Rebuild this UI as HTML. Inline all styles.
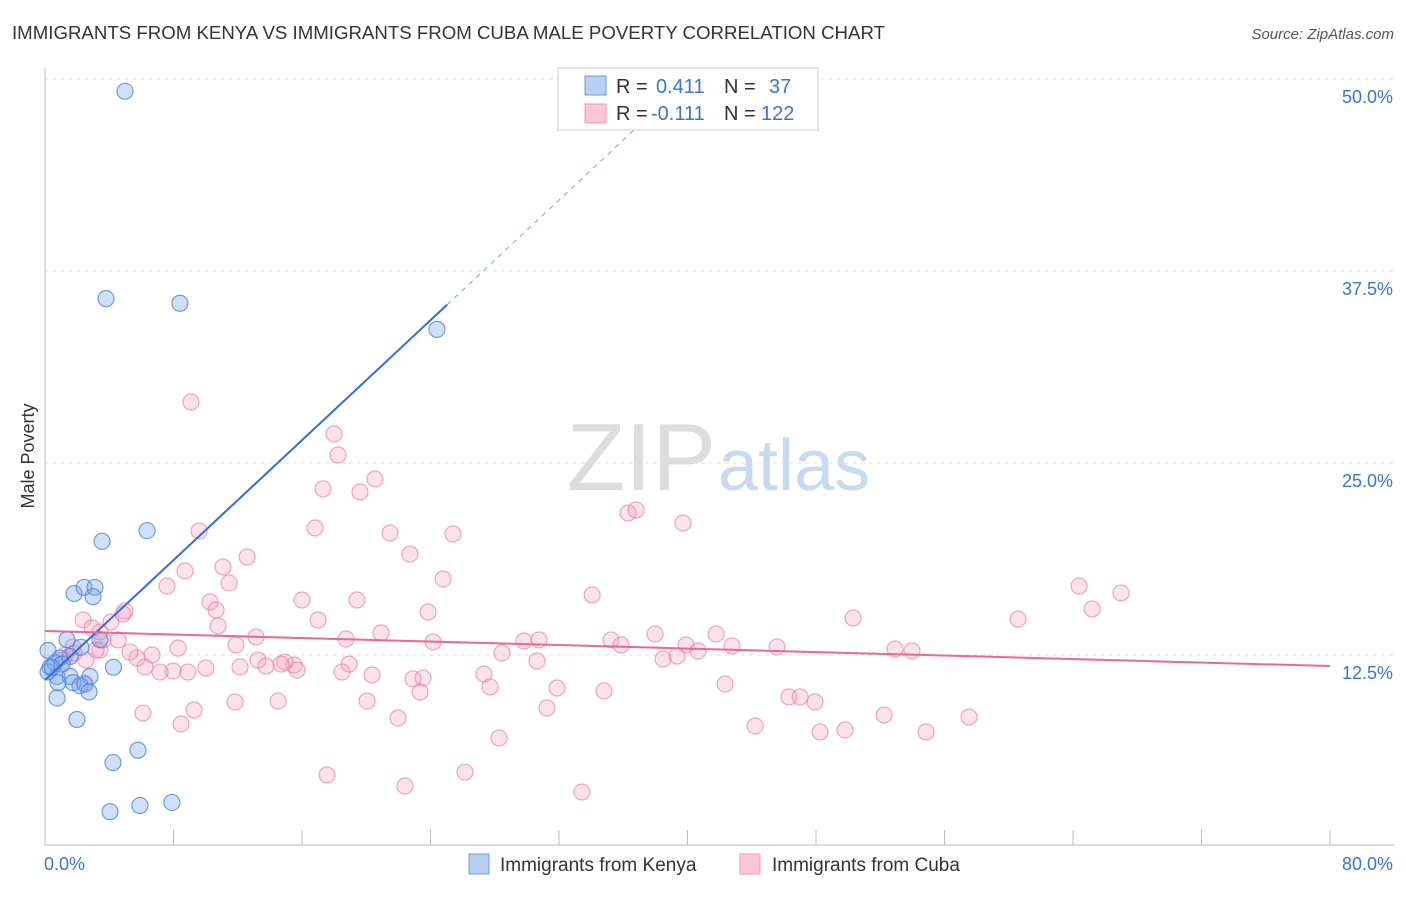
<!DOCTYPE html>
<html><head><meta charset="utf-8"><style>
body{margin:0;background:#fff;font-family:"Liberation Sans",sans-serif}
svg text{font-family:"Liberation Sans",sans-serif}
</style></head><body>
<svg id="chart" width="1406" height="892" viewBox="0 0 1406 892" xmlns="http://www.w3.org/2000/svg">
<text x="12" y="39" font-size="18" fill="#333" textLength="873" lengthAdjust="spacingAndGlyphs">IMMIGRANTS FROM KENYA VS IMMIGRANTS FROM CUBA MALE POVERTY CORRELATION CHART</text>
<text x="1394" y="39" font-size="15" fill="#555" text-anchor="end" font-style="italic">Source: ZipAtlas.com</text>
<text x="716" y="490" font-size="96" fill="#ddd" text-anchor="end" font-family="Liberation Serif">ZIP</text>
<text x="718" y="490" font-size="72" fill="#c8daf0">atlas</text>
<g id="grid"></g>
<g id="axes"></g>
<g id="pts"></g>
<g id="trend"></g>
<text transform="translate(34,456) rotate(-90)" font-size="18" fill="#333" text-anchor="middle">Male Poverty</text>
<g>
<rect x="558" y="68" width="260" height="62" fill="#fff" stroke="#ccc"/>
<rect x="585" y="76" width="21" height="19" fill="#b8d0f2" stroke="#6d9be0"/>
<rect x="585" y="104" width="21" height="19" fill="#f9c6d5" stroke="#ee99b3"/>
<text x="616" y="93" font-size="20" fill="#333">R =</text><text x="656" y="93" font-size="20" fill="#3b74d0">0.411</text>
<text x="724" y="93" font-size="20" fill="#333">N =</text><text x="769" y="93" font-size="20" fill="#3b74d0">37</text>
<text x="616" y="120" font-size="20" fill="#333">R =</text><text x="651" y="120" font-size="20" fill="#3b74d0">-0.111</text>
<text x="724" y="120" font-size="20" fill="#333">N =</text><text x="761" y="120" font-size="20" fill="#3b74d0">122</text>
</g>
<g>
<rect x="469" y="854" width="20" height="20" fill="#b8d0f2" stroke="#6d9be0"/>
<text x="500" y="871" font-size="19" fill="#333">Immigrants from Kenya</text>
<rect x="740" y="854" width="20" height="20" fill="#f9c6d5" stroke="#ee99b3"/>
<text x="772" y="871" font-size="19" fill="#333">Immigrants from Cuba</text>
</g>
</svg>
<script>
const xTicks=[0,8,16,24,32,40,48,56,64,72,80];
const yTicks=[12.5,25,37.5,50];
const yTickLabels=["12.5%","25.0%","37.5%","50.0%"];
const xEndLabels=["0.0%","80.0%"];
const kenyaX=[4.98,3.80,8.40,24.4,6.35,3.55,1.81,2.43,3.11,2.99,4.26,1.37,1.56,2.24,0.93,0.62,0.31,0.19,0.75,1.06,1.56,1.74,0.81,2.49,2.80,2.18,2.74,0.75,1.99,5.79,4.23,4.05,5.91,7.9,3.42,0.19,0.44];
const kenyaY=[49.2,35.7,35.4,33.7,20.6,19.9,16.5,16.9,16.9,16.3,11.7,13.5,12.4,13.0,12.3,12.0,11.7,11.4,11.1,11.9,11.1,10.7,10.7,10.6,11.1,10.5,10.1,9.7,8.3,6.3,5.5,2.3,2.7,2.9,13.5,12.8,11.7];
const cubaX=[9.09,17.99,18.24,17.31,19.61,20.55,9.59,16.81,21.48,25.40,12.58,11.08,22.72,7.60,8.72,11.46,24.78,10.27,10.65,4.98,4.86,16.00,19.42,23.85,17.00,2.37,2.93,4.11,10.77,13.14,18.74,20.92,24.16,29.82,30.76,35.24,35.86,37.98,39.91,41.78,42.77,45.57,50.31,60.58,64.38,65.19,66.99,34.06,36.30,36.80,39.72,52.92,53.98,39.35,40.66,38.48,30.63,28.45,27.33,27.71,23.53,22.91,23.35,20.36,18.93,18.49,15.50,15.69,14.94,13.26,13.76,12.14,10.02,8.90,7.97,7.16,6.23,6.66,5.73,5.29,8.28,3.42,3.61,4.55,1.25,1.81,2.55,3.18,1.74,1.12,2.43,11.89,14.69,31.88,34.80,42.34,46.32,47.01,47.94,31.25,20.05,14.51,11.83,9.28,6.10,8.47,21.98,44.21,48.25,49.81,52.24,54.85,57.53,28.27,17.56,26.15,22.41,33.43,3.42];
const cubaY=[28.97,26.89,25.52,23.31,23.11,23.96,20.57,20.77,20.44,20.38,18.88,18.23,19.07,16.99,17.97,17.19,17.45,15.95,15.43,15.36,15.17,16.08,16.08,15.30,14.78,14.78,14.26,14.65,14.39,13.67,13.54,13.93,13.35,13.41,13.48,13.48,13.15,13.87,13.15,13.87,13.09,13.02,14.91,14.84,16.99,15.49,16.54,16.41,21.74,21.94,21.09,12.89,12.76,12.43,12.76,12.24,12.11,12.63,11.26,10.42,11.00,10.94,10.09,11.20,11.91,11.39,11.85,11.52,12.04,12.17,11.78,11.72,11.65,11.39,11.46,11.39,11.72,12.50,12.30,12.69,12.95,12.82,13.48,13.48,12.50,12.63,12.17,12.82,13.02,12.17,10.68,13.15,11.91,10.35,10.16,10.61,9.77,9.77,9.44,9.05,9.50,9.50,9.44,8.92,8.72,8.01,8.40,7.88,7.49,7.62,8.59,7.49,8.46,7.10,4.69,4.88,3.97,3.58,14.00];
const kenyaTrend=[[0,10.87],[25.03,35.3]];
const kenyaTrendExt=[[25.03,35.3],[37.4,47.4]];
const cubaTrend=[[0,14.06],[80,11.78]];

const NS="http://www.w3.org/2000/svg";
const X=v=>45+v/80*1285;
const Y=v=>847-v/12.5*192;
function mk(tag,attrs,parent){const e=document.createElementNS(NS,tag);for(const k in attrs)e.setAttribute(k,attrs[k]);parent.appendChild(e);return e;}
const grid=document.getElementById('grid'),axes=document.getElementById('axes'),pts=document.getElementById('pts'),trend=document.getElementById('trend');
yTicks.forEach((t,i)=>{
  const l=mk('line',{x1:45,x2:1394,y1:Y(t),y2:Y(t),stroke:'#ddd','stroke-dasharray':'4,4'},grid);
  
  
  const tx=mk('text',{x:1393,y:Y(t)+24,'font-size':18,fill:'#3b74d0','text-anchor':'end'},axes);
  tx.textContent=yTickLabels[i];
  
  
});
const xa=mk('line',{x1:45,x2:1394,y1:845,y2:845,stroke:'#bbb'},axes);


const ya=mk('line',{x1:45,x2:45,y1:68,y2:845,stroke:'#bbb'},axes);


xTicks.forEach(t=>{
  const l=mk('line',{x1:X(t),x2:X(t),y1:830,y2:845,stroke:'#bbb'},axes);
  
  
});
const xl0=mk('text',{x:44,y:870,'font-size':18,fill:'#3b74d0'},axes);xl0.textContent=xEndLabels[0];


const xl1=mk('text',{x:1393,y:870,'font-size':18,fill:'#3b74d0','text-anchor':'end'},axes);xl1.textContent=xEndLabels[1];


cubaX.forEach((v,i)=>{
  const c=mk('circle',{cx:X(v),cy:Y(cubaY[i]),r:8,fill:'rgba(244,160,188,0.3)',stroke:'rgba(232,130,165,0.7)','stroke-width':1.2},pts);
  
  
});
kenyaX.forEach((v,i)=>{
  const c=mk('circle',{cx:X(v),cy:Y(kenyaY[i]),r:8,fill:'rgba(120,165,235,0.35)',stroke:'rgba(80,135,215,0.8)','stroke-width':1.2},pts);
  
  
});
const kt=mk('line',{x1:X(kenyaTrend[0][0]),y1:Y(kenyaTrend[0][1]),x2:X(kenyaTrend[1][0]),y2:Y(kenyaTrend[1][1]),stroke:'#2f6fd6','stroke-width':2},trend);


const ke=mk('line',{x1:X(kenyaTrendExt[0][0]),y1:Y(kenyaTrendExt[0][1]),x2:X(kenyaTrendExt[1][0]),y2:Y(kenyaTrendExt[1][1]),stroke:'#7aa3e3','stroke-width':1,'stroke-dasharray':'5,5'},trend);


const ct=mk('line',{x1:X(cubaTrend[0][0]),y1:Y(cubaTrend[0][1]),x2:X(cubaTrend[1][0]),y2:Y(cubaTrend[1][1]),stroke:'#e8689a','stroke-width':2},trend);


</script>
</body></html>
